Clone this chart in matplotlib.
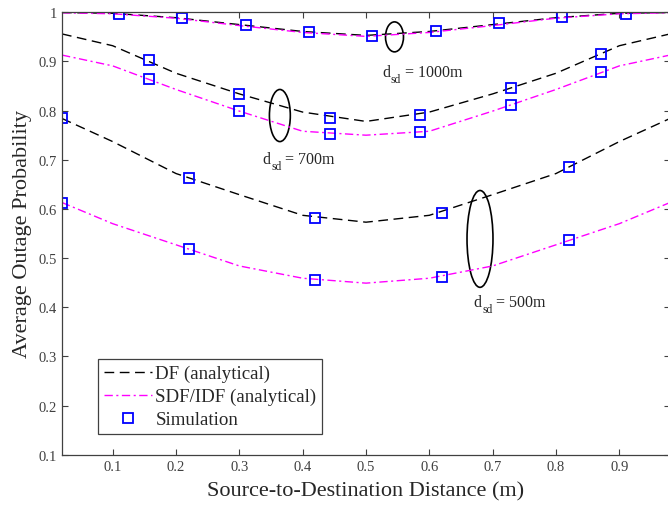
import numpy as np
import matplotlib
matplotlib.use('Agg')
import matplotlib.pyplot as plt
from matplotlib.patches import Ellipse

plt.rcParams['font.family'] = ['Liberation Serif', 'DejaVu Serif']

# analytical curves
x_curve = [0.02, 0.1, 0.2, 0.3, 0.4, 0.5, 0.6, 0.7, 0.8, 0.9, 0.98]
df_1000 = [0.9995, 0.998, 0.989, 0.975, 0.961, 0.953, 0.961, 0.975, 0.989, 0.998, 0.9995]
sdf_1000 = [0.999, 0.997, 0.988, 0.973, 0.959, 0.951, 0.959, 0.973, 0.988, 0.997, 0.999]
df_700 = [0.956, 0.932, 0.876, 0.834, 0.797, 0.778, 0.797, 0.834, 0.876, 0.932, 0.956]
sdf_700 = [0.913, 0.891, 0.843, 0.799, 0.758, 0.750, 0.758, 0.799, 0.843, 0.891, 0.913]
df_500 = [0.784, 0.737, 0.672, 0.629, 0.587, 0.573, 0.587, 0.629, 0.672, 0.737, 0.784]
sdf_500 = [0.613, 0.570, 0.527, 0.484, 0.459, 0.449, 0.459, 0.484, 0.527, 0.570, 0.613]

# simulation points
x_sim_1000 = [0.11, 0.21, 0.31, 0.41, 0.51, 0.61, 0.71, 0.81, 0.91]
sim_1000 = [0.997, 0.988, 0.974, 0.960, 0.952, 0.961, 0.978, 0.990, 0.997]
x_sim_700 = [0.157, 0.3, 0.443, 0.586, 0.729, 0.871]
sim_df_700 = [0.903, 0.834, 0.785, 0.791, 0.847, 0.916]
sim_sdf_700 = [0.864, 0.799, 0.752, 0.757, 0.811, 0.878]
x_sim_500 = [0.02, 0.22, 0.42, 0.62, 0.82]
sim_df_500 = [0.784, 0.662, 0.581, 0.591, 0.686]
sim_sdf_500 = [0.613, 0.518, 0.455, 0.462, 0.537]

# annotation labels
dsd_labels = ['1000m', '700m', '500m']

fig = plt.figure(figsize=(6.68, 5.06), dpi=100)
ax = fig.add_axes([62 / 668, 50.3 / 506, 608 / 668, 442.4 / 506])

df_style = dict(color='black', lw=1.0, dashes=(7, 4))
sdf_style = dict(color='magenta', lw=1.0, dashes=(6, 2.5, 1.5, 2.5))
sim_style = dict(ls='none', marker='s', ms=6.5, mfc='none', mec='blue', mew=1.3)

ax.plot(x_curve, df_1000, label='DF (analytical)', **df_style)
ax.plot(x_curve, sdf_1000, label='SDF/IDF (analytical)', **sdf_style)
ax.plot(x_curve, df_700, **df_style)
ax.plot(x_curve, sdf_700, **sdf_style)
ax.plot(x_curve, df_500, **df_style)
ax.plot(x_curve, sdf_500, **sdf_style)

ax.plot(x_sim_1000, sim_1000, label='Simulation', **sim_style)
ax.plot(x_sim_700, sim_df_700, **sim_style)
ax.plot(x_sim_700, sim_sdf_700, **sim_style)
ax.plot(x_sim_500, sim_df_500, **sim_style)
ax.plot(x_sim_500, sim_sdf_500, **sim_style)

# ellipses + labels
for (cx, cy, w, h) in [(0.545, 0.950, 0.0284, 0.061),
                       (0.364, 0.790, 0.033, 0.106),
                       (0.680, 0.539, 0.041, 0.197)]:
    ax.add_patch(Ellipse((cx, cy), w, h, fill=False, ec='black', lw=1.2))

txt_color = '#262626'
for (tx, ty), lab in zip([(0.526, 0.871), (0.337, 0.693), (0.670, 0.403)], dsd_labels):
    t1 = ax.text(tx, ty, 'd', fontsize=11.5, color=txt_color, va='baseline')
    t2 = ax.annotate('sd', xy=(1, 0), xycoords=t1, xytext=(0.3, -3.7),
                     textcoords='offset points', fontsize=8.5, color=txt_color,
                     ha='left', va='bottom')
    ax.annotate(' = ' + lab, xy=(1, 0), xycoords=(t2, t1), fontsize=11.5,
                color=txt_color, ha='left', va='bottom')

ax.set_xlim(0.02, 0.98)
ax.set_ylim(0.1, 1.0)
ax.set_xticks(np.arange(0.1, 0.95, 0.1))
ax.set_xticklabels(['0.1', '0.2', '0.3', '0.4', '0.5', '0.6', '0.7', '0.8', '0.9'])
ax.set_yticks(np.arange(0.1, 1.05, 0.1))
ax.set_yticklabels(['0.1', '0.2', '0.3', '0.4', '0.5', '0.6', '0.7', '0.8', '0.9', '1'])
ax.tick_params(direction='in', length=4, width=0.8, top=True, right=True,
               labelsize=10.5, colors='#404040', labelcolor='#404040')
for s in ax.spines.values():
    s.set_color('#404040')
    s.set_linewidth(0.9)

ax.set_xlabel('Source-to-Destination Distance (m)', fontsize=16, color=txt_color, labelpad=6)
ax.set_ylabel('Average Outage Probability', fontsize=16, color=txt_color, labelpad=5)

leg = ax.legend(loc='lower left', bbox_to_anchor=(0.059, 0.047), borderaxespad=0,
                fontsize=13.6, handlelength=2.55, handletextpad=0.2, labelspacing=0.3,
                borderpad=0.3, fancybox=False, framealpha=1)
leg.get_frame().set_edgecolor('#404040')
leg.get_frame().set_linewidth(0.9)
for t in leg.get_texts():
    t.set_color(txt_color)

fig.savefig('out.png', dpi=100)
